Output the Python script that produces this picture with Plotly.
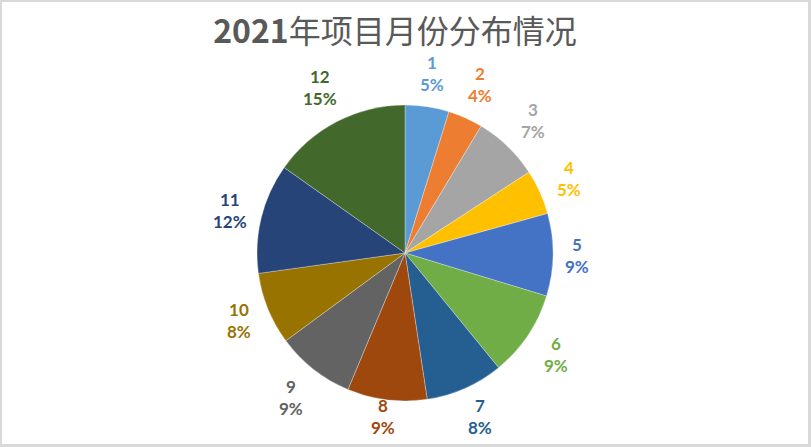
import math
import plotly.graph_objects as go

months = ["1", "2", "3", "4", "5", "6", "7", "8", "9", "10", "11", "12"]
shares = [4.8, 3.8, 7.2, 4.9, 9.0, 9.4, 8.5, 8.7, 8.6, 7.9, 12.0, 15.2]
colors = ["#5B9BD5", "#ED7D31", "#A5A5A5", "#FFC000", "#4472C4", "#70AD47",
          "#255E91", "#9E480E", "#636363", "#997300", "#264478", "#43682B"]
title_text = "<b>2021</b>年项目月份分布情况"

W, H = 811, 447
cx, cy, r = 405, 253, 148

fig = go.Figure(go.Pie(
    labels=months,
    values=shares,
    sort=False,
    direction="clockwise",
    rotation=0,
    marker=dict(colors=colors, line=dict(color="rgba(255,255,255,0.5)", width=0.6)),
    textinfo="none",
    hoverinfo="label+percent",
    domain=dict(x=[(cx - r) / W, (cx + r) / W], y=[(H - cy - r) / H, (H - cy + r) / H]),
    showlegend=False,
))

# data labels placed just outside each slice (Excel "outside end" style)
total = sum(shares)
annotations = []
cum = 0.0
for m, v, c in zip(months, shares, colors):
    mid = (cum + v / 2) / total * 2 * math.pi
    cum += v
    s, co = math.sin(mid), math.cos(mid)
    pct = f"{round(v / total * 100)}%"
    hw = 7 * max(len(m), len(pct)) / 2 + 8
    hh = 23
    off = r + 9 + abs(s) * hw + abs(co) * hh
    px = cx + off * s
    py = cy - off * co
    py = max(40, min(py, 416))
    annotations.append(dict(
        x=px / W, y=1 - py / H, xref="paper", yref="paper",
        text=f"<b>{m}</b><br><b>{pct}</b>", showarrow=False,
        xanchor="center", yanchor="middle", align="center",
        font=dict(family="Lato", size=17, color=c),
    ))

fig.update_layout(
    width=W, height=H,
    margin=dict(l=0, r=0, t=0, b=0),
    paper_bgcolor="#D9D9D9",
    plot_bgcolor="white",
    title=dict(text=title_text, x=395 / W, xanchor="center", y=1 - 32 / H, yanchor="middle",
               font=dict(family="Noto Sans CJK SC", size=32, color="#595959")),
    shapes=[dict(type="rect", xref="paper", yref="paper", layer="below",
                 x0=2 / W, x1=808 / W, y0=(H - 444) / H, y1=(H - 2) / H,
                 fillcolor="white", line=dict(width=0))],
    annotations=annotations,
)

fig.write_html("out.html", config={"displayModeBar": False},
               post_script="document.body.style.margin='0';")
